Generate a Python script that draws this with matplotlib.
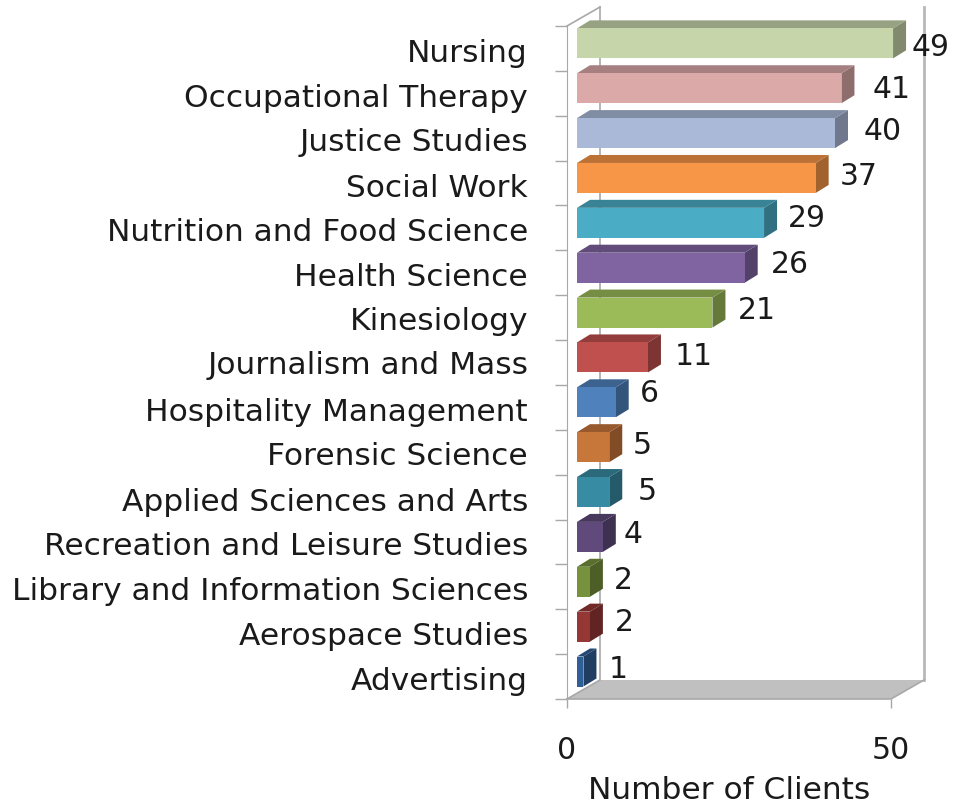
import numpy as np
import matplotlib
matplotlib.use('Agg')
import matplotlib.pyplot as plt
from matplotlib.colors import to_rgb
from matplotlib.transforms import ScaledTranslation

programs = ['Nursing', 'Occupational Therapy', 'Justice Studies', 'Social Work',
            'Nutrition and Food Science', 'Health Science', 'Kinesiology',
            'Journalism and Mass', 'Hospitality Management', 'Forensic Science',
            'Applied Sciences and Arts', 'Recreation and Leisure Studies',
            'Library and Information Sciences', 'Aerospace Studies', 'Advertising']
clients = [49, 41, 40, 37, 29, 26, 21, 11, 6, 5, 5, 4, 2, 2, 1]
bar_colors = ['#C6D5AA', '#DBA9A8', '#AAB9D7', '#F79646', '#4BACC6', '#8064A2', '#9BBB59',
              '#C0504D', '#4F81BD', '#C8773A', '#378BA2', '#604A7B', '#76923C', '#953735', '#2F5F96']
x_ticks = [0, 50]

# label nudges in pixels, the value labels sit unevenly in the original
label_dx = [25, 37, 35, 30, 30, 32, 31, 33, 21, 20, 25, 17, 20, 21, 22]
label_dy = [1, 4, 7, 7, 9, 8, 7, 6, 14, 7, 6, 7, 6, 9, 7]
name_dy = [2, 2, 1, 2, 2, 2, 1, 0, 2, 1, 2, 2, 2, 2, 2]

W, H = 954, 805
left, right, top, bottom = 567, 891, 26, 699
FONT = 'DejaVu Sans'
TXT = '#1a1a1a'
GRID = '#a8a8a8'

fig = plt.figure(figsize=(W / 100, H / 100), dpi=100)
ax = fig.add_axes([left / W, 1 - bottom / H, (right - left) / W, (bottom - top) / H])
ax.set_xlim(0, 50)
ax.set_ylim(len(programs), 0)

ux = (right - left) / 50      # px per client
uy = (bottom - top) / len(programs)   # px per row


def px(x):
    return x / ux


def py(y):
    return y / uy


def shade(c, f):
    return tuple(v * f for v in to_rgb(c))


# walls and floor
wx, wy = px(33), py(19)
n = len(programs)
ax.fill([0, 50, 50 + wx, wx], [n, n, n - wy, n - wy], color='#c0c0c0', lw=0, clip_on=False, zorder=1)
ax.plot([0, 50, 50 + wx], [n, n, n - wy], color=GRID, lw=1.2, clip_on=False, zorder=2)
ax.plot([0, wx, wx], [n, n - wy, -wy], color=GRID, lw=1.2, clip_on=False, zorder=1)
ax.plot([0, wx], [0, -wy], color=GRID, lw=1.2, clip_on=False, zorder=1)
ax.plot([50 + wx, 50 + wx], [n - wy, -wy], color='#b8b8b8', lw=2, clip_on=False, zorder=1)

# the bars, drawn as three faces
x0 = px(10)
dx, dy = px(13), py(8)
bar_h = py(30)
gap = py(12.5)
for i, (v, c) in enumerate(zip(clients, bar_colors)):
    x1 = x0 + v * 6.45 / ux
    yb = i + 1 - gap
    yt = yb - bar_h
    ax.fill([x1, x1 + dx, x1 + dx, x1], [yb, yb - dy, yt - dy, yt], color=shade(c, 0.65), lw=0, clip_on=False, zorder=3)
    ax.fill([x0, x0 + dx, x1 + dx, x1], [yt, yt - dy, yt - dy, yt], color=shade(c, 0.76), lw=0, clip_on=False, zorder=3)
    ax.fill([x0, x1, x1, x0], [yb, yb, yt, yt], color=c, lw=0, clip_on=False, zorder=4)
    ax.annotate(str(v), (x1 + dx, i + 0.5), xytext=(label_dx[i] * 0.72, label_dy[i] * 0.72),
                textcoords='offset points', ha='center', va='center',
                fontsize=21.5, family=FONT, color=TXT, zorder=5, annotation_clip=False)

for s in ['top', 'right']:
    ax.spines[s].set_visible(False)
ax.spines['left'].set_color(GRID)
ax.spines['bottom'].set_visible(False)

ax.set_yticks(np.arange(n + 1))
ax.set_yticklabels([])
ax.set_yticks(np.arange(n) + 0.5, programs, minor=True)
ax.tick_params(axis='y', which='major', length=8.6, color=GRID, width=1)
ax.tick_params(axis='y', which='minor', length=0, pad=28, labelsize=22.5, labelcolor=TXT)
for lab, d in zip(ax.get_yticklabels(minor=True), name_dy):
    lab.set_family(FONT)
    lab.set_transform(lab.get_transform() + ScaledTranslation(0, -d / 100, fig.dpi_scale_trans))

ax.set_xticks(x_ticks)
ax.tick_params(axis='x', length=6.5, color=GRID, width=1, pad=20, labelsize=21.5, labelcolor=TXT)
ax.set_xlabel('Number of Clients', fontsize=22.5, family=FONT, color=TXT, labelpad=8)

fig.savefig('out.png', dpi=100)
